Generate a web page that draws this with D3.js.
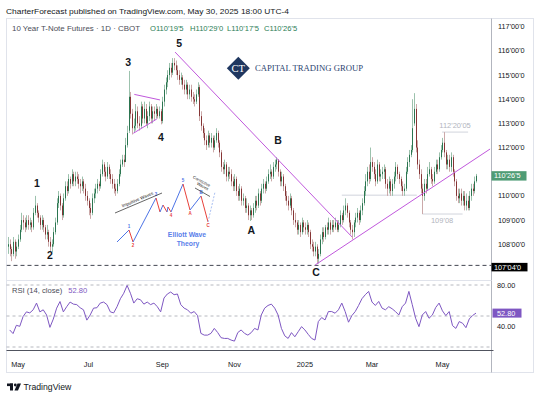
<!DOCTYPE html>
<html><head><meta charset="utf-8">
<script src="https://cdn.jsdelivr.net/npm/d3@7"></script>
<style>
body{margin:0;background:#fff;}
svg{display:block;font-family:"Liberation Sans",Arial,sans-serif;}
</style></head><body>
<svg id="c" width="540" height="395"></svg>
<script>
// ---------- DATA (daily bars, 10Y T-Note futures, Apr 2024 - May 30 2025) ----------
const opens=[
107.9,108.0,107.8,107.6,108.1,107.7,107.9,108.2,108.6,109.0,
108.9,108.7,109.0,108.8,108.9,108.7,109.3,109.6,109.3,109.1,
108.8,109.0,108.7,108.4,108.5,108.1,107.9,108.0,108.5,108.9,
109.7,110.0,109.6,109.2,109.9,110.4,110.2,110.7,110.5,110.9,
110.6,110.8,110.7,110.5,110.4,110.6,110.3,110.0,109.8,109.5,109.3,
109.9,110.1,110.3,110.5,110.4,110.9,111.3,111.0,110.8,111.2,
110.9,110.7,110.5,110.3,110.2,110.5,110.9,111.3,111.5,111.4,
112.1,112.7,114.1,113.4,112.8,112.9,113.5,113.0,112.9,113.7,
113.2,113.6,113.0,113.3,113.7,113.2,113.5,113.4,113.6,113.3,
113.5,113.1,113.9,114.4,114.7,115.0,115.3,115.1,115.5,115.4,
115.2,115.0,114.8,114.9,114.6,114.4,114.6,114.2,114.4,114.1,
114.0,113.9,114.2,114.5,113.3,112.9,112.6,112.3,112.1,112.5,
112.2,112.4,112.0,112.3,112.6,112.2,111.8,111.2,111.1,111.3,
110.8,111.0,110.9,110.6,110.4,110.7,110.2,110.0,110.3,109.8,109.9,
109.5,109.6,109.2,109.4,109.2,109.5,109.8,109.6,110.1,109.8,
110.3,110.5,110.3,110.6,110.9,111.0,110.8,111.2,111.3,111.5,
111.0,110.6,110.8,110.4,110.0,109.8,109.6,109.9,109.4,109.0,
108.9,108.6,108.8,108.5,108.9,108.7,108.6,108.8,108.5,108.0,
107.9,107.7,107.9,107.4,107.6,108.2,108.5,108.3,108.7,108.6,
108.9,108.6,108.8,108.7,108.9,108.6,108.8,109.2,109.0,109.4,
109.6,109.3,108.9,108.6,108.5,108.9,109.1,109.3,109.0,109.4,
109.7,110.2,110.6,111.0,110.7,111.4,111.2,110.9,110.6,111.3,
110.8,110.9,111.0,111.1,110.5,110.3,110.6,110.2,110.5,110.8,111.2,
110.9,110.7,110.4,110.2,110.3,111.0,111.4,111.7,111.9,113.0,
113.6,112.0,111.3,110.9,110.3,110.0,110.5,110.3,110.9,111.1,
110.7,110.6,111.0,111.3,111.1,111.6,111.9,112.2,111.8,111.3,
111.5,111.2,111.6,111.0,110.6,110.0,109.9,110.1,109.8,110.0,
109.6,109.8,109.5,110.0,110.3,110.2,110.61];
const highs=[
108.3,108.2,107.9,108.3,108.2,108.1,108.4,108.8,109.3,109.2,
109.1,109.2,109.2,109.1,109.0,109.5,110.0,109.7,109.4,109.2,
109.2,109.1,108.8,108.8,108.6,108.3,108.2,108.7,109.1,109.9,
110.2,110.1,109.7,110.1,110.6,110.6,110.9,110.8,111.1,111.0,
111.0,111.0,110.9,110.7,110.8,110.7,110.5,110.2,109.9,109.7,110.1,
110.3,110.5,110.7,110.6,111.1,111.5,111.4,111.2,111.4,111.3,
111.1,110.9,110.7,110.5,110.7,111.1,111.5,111.7,111.7,112.4,
112.9,115.17,114.3,113.6,113.2,113.8,113.7,113.3,113.9,113.8,
113.9,113.8,113.5,113.9,113.8,113.7,113.7,113.8,113.7,113.7,
113.6,114.1,114.6,114.9,115.2,115.5,115.5,115.7,115.7,115.6,
115.4,115.2,115.1,115.0,114.8,114.8,114.7,114.6,114.6,114.3,
114.2,114.4,114.7,114.6,113.5,113.0,112.8,112.5,112.7,112.6,
112.6,112.5,112.5,112.8,112.7,112.3,111.9,111.4,111.5,111.4,
111.2,111.2,111.1,110.8,110.9,110.8,110.4,110.5,110.4,110.1,110.0,
109.9,109.7,109.6,109.5,109.7,110.0,110.0,110.3,110.2,110.5,
110.7,110.6,110.8,111.1,111.3,111.1,111.4,111.5,111.6,111.5,
111.1,111.0,110.9,110.5,110.2,110.0,110.1,110.0,109.5,109.3,
109.0,109.0,108.9,109.1,109.0,108.9,109.0,108.9,108.6,108.2,
108.1,108.1,108.0,107.8,108.4,108.7,108.7,108.8,108.9,109.1,
109.0,109.0,109.0,109.1,109.0,109.0,109.4,109.3,109.6,109.9,
109.7,109.4,109.0,108.8,109.0,109.3,109.5,109.4,109.6,109.9,
110.4,110.9,111.2,111.3,112.0,111.6,111.4,111.1,111.5,111.4,
111.1,111.2,111.3,111.2,110.7,110.8,110.7,110.7,111.0,111.4,111.3,
111.0,110.8,110.6,110.5,111.2,111.6,111.9,112.1,114.0,114.25,
113.8,112.3,111.5,111.1,110.5,110.7,110.7,111.2,111.4,111.2,
110.9,111.2,111.5,111.5,111.8,112.1,112.4,112.64,111.9,111.7,
111.7,111.8,111.7,111.1,110.7,110.3,110.3,110.3,110.2,110.2,
110.1,110.0,110.2,110.5,110.5,110.8,110.91];
const lows=[
107.6,107.5,107.3,107.5,107.4,107.5,107.8,108.1,108.5,108.6,
108.5,108.6,108.6,108.6,108.5,108.6,109.2,109.1,108.9,108.6,
108.6,108.5,108.2,108.2,107.9,107.7,107.67,107.9,108.4,108.8,
109.5,109.4,109.0,109.1,109.8,110.0,110.1,110.3,110.4,110.4,
110.4,110.5,110.3,110.1,110.2,110.1,109.8,109.6,109.2,109.05,109.2,
109.7,109.9,110.1,110.2,110.3,110.8,110.8,110.6,110.7,110.7,
110.5,110.3,110.1,110.0,110.1,110.4,110.8,111.2,111.2,111.4,
112.0,112.6,113.2,112.54,112.6,112.7,112.8,112.7,112.8,113.0,
113.0,112.9,112.8,113.1,113.0,113.0,113.1,113.2,113.2,113.2,
112.96,113.0,113.7,114.2,114.5,114.8,114.9,115.0,115.2,115.0,
114.8,114.6,114.6,114.4,114.2,114.2,114.0,114.0,113.9,113.8,
113.7,113.8,114.1,113.1,112.7,112.4,112.1,111.9,112.0,112.0,
112.0,111.8,111.9,112.2,112.0,111.6,111.0,110.9,110.9,110.6,
110.6,110.7,110.4,110.2,110.2,110.0,109.8,109.8,109.6,109.6,109.3,
109.3,109.0,108.96,109.0,109.1,109.3,109.4,109.5,109.6,109.7,
110.1,110.1,110.2,110.5,110.7,110.6,110.7,111.0,111.1,110.8,
110.4,110.4,110.2,109.8,109.6,109.4,109.5,109.2,108.8,108.7,
108.4,108.4,108.3,108.4,108.5,108.4,108.4,108.3,107.8,107.7,
107.5,107.5,107.2,107.2,107.5,108.0,108.1,108.2,108.4,108.4,
108.4,108.5,108.5,108.6,108.5,108.5,108.7,108.8,108.9,109.2,
109.1,108.7,108.4,108.2,108.3,108.7,108.9,108.8,108.9,109.2,
109.6,110.0,110.4,110.5,110.6,111.0,110.7,110.4,110.5,110.6,
110.6,110.7,110.7,110.3,110.0,110.1,110.0,110.0,110.3,110.6,110.7,
110.5,110.2,110.0,110.0,110.2,110.9,111.2,111.6,111.8,112.9,
111.8,111.1,110.7,110.1,109.25,109.8,110.1,110.2,110.8,110.5,
110.4,110.5,110.9,110.9,111.0,111.5,111.8,111.6,111.1,111.1,
111.0,111.0,110.8,110.4,109.8,109.7,109.7,109.6,109.6,109.4,
109.4,109.4,109.4,109.8,110.0,110.1,110.55];
const closes=[
108.0,107.8,107.6,108.1,107.7,107.9,108.2,108.6,109.0,108.9,
108.7,109.0,108.8,108.9,108.7,109.3,109.6,109.3,109.1,108.8,
109.0,108.7,108.4,108.5,108.1,107.9,108.0,108.5,108.9,109.7,
110.0,109.6,109.2,109.9,110.4,110.2,110.7,110.5,110.9,110.6,
110.8,110.7,110.5,110.4,110.6,110.3,110.0,109.8,109.5,109.3,109.9,
110.1,110.3,110.5,110.4,110.9,111.3,111.0,110.8,111.2,110.9,
110.7,110.5,110.3,110.2,110.5,110.9,111.3,111.5,111.4,112.1,
112.6,114.1,113.4,112.8,112.9,113.5,113.0,112.9,113.7,113.2,
113.6,113.0,113.3,113.7,113.2,113.5,113.4,113.6,113.3,113.5,
113.1,113.9,114.4,114.7,115.0,115.3,115.1,115.5,115.4,115.2,
115.0,114.8,114.9,114.6,114.4,114.6,114.2,114.4,114.1,114.0,
113.9,114.2,114.5,113.3,112.9,112.6,112.3,112.1,112.5,112.2,
112.4,112.0,112.3,112.6,112.2,111.8,111.2,111.1,111.3,110.8,
111.0,110.9,110.6,110.4,110.7,110.2,110.0,110.3,109.8,109.9,109.5,
109.6,109.2,109.4,109.2,109.5,109.8,109.6,110.1,109.8,110.3,
110.5,110.3,110.6,110.9,111.0,110.8,111.2,111.3,111.5,111.0,
110.6,110.8,110.4,110.0,109.8,109.6,109.9,109.4,109.0,108.9,
108.6,108.8,108.5,108.9,108.7,108.6,108.8,108.5,108.0,107.9,
107.7,107.9,107.4,107.6,108.2,108.5,108.3,108.7,108.6,108.9,
108.6,108.8,108.7,108.9,108.6,108.8,109.2,109.0,109.4,109.6,
109.3,108.9,108.6,108.5,108.9,109.1,109.3,109.0,109.4,109.7,
110.2,110.6,111.0,110.7,111.4,111.2,110.9,110.6,111.3,110.8,
110.9,111.0,111.1,110.5,110.3,110.6,110.2,110.5,110.8,111.2,110.9,
110.7,110.4,110.2,110.3,111.0,111.4,111.7,111.9,112.8,113.6,
112.0,111.3,110.9,110.3,110.0,110.5,110.3,110.9,111.1,110.7,
110.6,111.0,111.3,111.1,111.6,111.9,112.2,111.8,111.3,111.5,
111.2,111.6,111.0,110.6,110.0,109.9,110.1,109.8,110.0,109.6,
109.8,109.5,110.0,110.3,110.2,110.6,110.83];
const rsiValues=[
36.5,33,41,40,49.5,54,53,56,62.5,54,
56,51,39,47,57.6,64,54,59,63.5,61.5,
61,58,56,46,51,57.6,58,62.5,63.5,61,
54,53,59,66.7,72,79.6,72,62.5,66.7,65.7,
61.5,63.5,61,62.5,59,54,67.4,71.3,73.2,70.6,
71.3,61,57.6,56,52.7,54.3,50.4,33.2,31.5,31.5,
33.2,38,34,29,28.3,28.3,26.7,25.7,34,36.5,
33.2,31.5,33.9,38,36.5,51,57.6,60.2,61.5,57.6,
51,38,30.8,28.3,33.9,29.9,34.8,39.7,36.5,32.2,
28.3,26.7,44.6,48.5,46.2,54.3,54.3,52.7,56,62.5,
54.3,44,50.4,54.3,60.2,66.7,70.6,73.8,63.5,60.2,
64.1,57.6,56,59,57,54.3,51,59,62.5,73.8,
61,47.8,39.7,51,54.3,47.8,51,58.3,62.5,55,
50.4,54.3,40.7,38,44.6,43,38.7,47.2,50.5,52.8];
const rsiFirstBar=1, rsiStep=2;

const priceTicks=[117,116,115,114,113,112,110,109,108];
const priceTickLabels=["117'00'0","116'00'0","115'00'0","114'00'0","113'00'0","112'00'0","110'00'0","109'00'0","108'00'0"];
const monthLabels=["May","Jul","Sep","Nov","2025","Mar","May"];
const monthBars=[6,48,92,135,177,217,259];
const rsiTicks=[80,40];
const rsiTickLabels=["80.00","40.00"];
const lastPrice=110.828, lastPriceLabel="110'26'5";
const keyLevel=107.125, keyLevelLabel="107'04'0";
const lastRsi=52.80;

// Elliott wave count annotations (bar index, price)
const waveLabels=["1","2","3","4","5","A","B","C"];
const waveBars=[17.3,25,71.6,91.2,102,145,161,183.7];
const wavePrices=[110.54,107.56,115.54,112.44,116.33,108.6,112.31,106.86];
// trend lines: [bar0, price0, bar1, price1]
const trendLines=[[99.6,115.95,205.1,108.3],[183.1,107.14,287.4,111.94],[75.3,114.2,90.6,113.97],[74.7,112.59,88.7,113.18]];
// grey horizontal markers
const greyLevels=[[199,243.7,110.03],[247,271,109.25],[258.8,274.3,112.64]];
const greyTexts=[["109'08",258.8,108.98],["112'20'05",266.5,112.93]];
// inset "Elliott Wave Theory" schematic (local units)
const insetPts=[[1,0],[13,12],[17,0],[40,44],[44,30],[47,37],[51,30],[52,35],[55,30],[67,58],[74,32],[85,46],[92,20]];
const insetTail=[[92,20],[99,50]];
const insetLabels=[["1",13,12,1],["2",17,0,-1],["3",40,44,1],["4",55,30,-1],["5",67,58,1],["A",74,32,-1],["B",85,46,1],["C",92,20,-1]];

// ---------- DRAW ----------
const svg=d3.select("#c");
const PL=6.5, PR=491.5, MT=18.5, MB=280.5, RB=350.5, AB=372.5, FR=533.5;
const x=d3.scaleLinear().domain([0,279]).range([8,476]);
const y=d3.scaleLinear().domain([106.52,117.36]).range([280,18]);
const yr=d3.scaleLinear().domain([20,80]).range([347,285]);

svg.append("rect").attr("width",540).attr("height",395).attr("fill","#fff");
// header
svg.append("text").attr("x",6).attr("y",14).attr("font-size",8).attr("fill","#131722")
  .attr("textLength",283).attr("lengthAdjust","spacingAndGlyphs")
  .text("CharterForecast published on TradingView.com, May 30, 2025 18:00 UTC-4");

// frame
svg.append("rect").attr("x",PL).attr("y",MT).attr("width",FR-PL).attr("height",AB-MT)
  .attr("fill","none").attr("stroke","#e0e3eb");
svg.append("line").attr("x1",PR).attr("x2",PR).attr("y1",MT).attr("y2",AB).attr("stroke","#b2b5be");
svg.append("line").attr("x1",PL).attr("x2",PR).attr("y1",MB).attr("y2",MB).attr("stroke","#e0e3eb");
svg.append("line").attr("x1",PL).attr("x2",PR+2).attr("y1",RB).attr("y2",RB).attr("stroke","#50535e");

svg.append("defs").append("clipPath").attr("id","mainClip").append("rect")
  .attr("x",PL).attr("y",MT).attr("width",PR-PL).attr("height",MB-MT);
const main=svg.append("g").attr("clip-path","url(#mainClip)");

// logo watermark
const logo=svg.append("g");
logo.append("path").attr("d","M238.3,56.8 L249.8,68.3 L238.3,79.8 L226.8,68.3 Z").attr("fill","#1f3760");
logo.append("text").attr("x",238.3).attr("y",72).attr("text-anchor","middle").attr("font-family","Liberation Serif,serif")
  .attr("font-size",10.5).attr("fill","#fff").text("CT");
logo.append("text").attr("x",255).attr("y",71).attr("font-family","Liberation Serif,serif").attr("font-size",8.3)
  .attr("fill","#2c4470").attr("textLength",108).attr("lengthAdjust","spacingAndGlyphs").text("CAPITAL TRADING GROUP");

// key level dashed line
main.append("line").attr("x1",PL).attr("x2",PR).attr("y1",y(keyLevel)).attr("y2",y(keyLevel))
  .attr("stroke","#434651").attr("stroke-dasharray","4,3");

// grey markers
main.selectAll(".gl").data(greyLevels).join("line")
  .attr("x1",d=>x(d[0])).attr("x2",d=>x(d[1])).attr("y1",d=>y(d[2])).attr("y2",d=>y(d[2]))
  .attr("stroke","#d1d4dc").attr("stroke-width",1);
main.selectAll(".gt").data(greyTexts).join("text")
  .attr("x",d=>x(d[1])).attr("y",d=>y(d[2])).attr("dy","0.35em").attr("text-anchor","middle")
  .attr("font-size",7.5).attr("fill","#b2b5be").text(d=>d[0]);

// candles
const bars=closes.map((c,i)=>({i,o:opens[i],h:highs[i],l:lows[i],c}));
main.selectAll(".wick").data(bars).join("line")
  .attr("x1",d=>Math.round(x(d.i))+0.5).attr("x2",d=>Math.round(x(d.i))+0.5)
  .attr("y1",d=>y(d.h)).attr("y2",d=>y(d.l))
  .attr("stroke",d=>d.c>=d.o?"#9cc2ad":"#cba9a9").attr("stroke-width",1);
main.selectAll(".body").data(bars).join("rect")
  .attr("x",d=>Math.round(x(d.i))).attr("width",1)
  .attr("y",d=>y(Math.max(d.o,d.c))).attr("height",d=>Math.max(1,Math.abs(y(d.o)-y(d.c))))
  .attr("fill",d=>d.c>=d.o?"#2b7550":"#863535");

// trend lines
main.selectAll(".tl").data(trendLines).join("line")
  .attr("x1",d=>x(d[0])).attr("y1",d=>y(d[1])).attr("x2",d=>x(d[2])).attr("y2",d=>y(d[3]))
  .attr("stroke","#c058dc").attr("stroke-width",1);

// wave labels
main.selectAll(".wl").data(waveLabels).join("text")
  .attr("x",(d,i)=>x(waveBars[i])).attr("y",(d,i)=>y(wavePrices[i])).attr("dy","0.36em")
  .attr("text-anchor","middle").attr("font-size",10.5).attr("font-weight","bold").attr("fill","#131722").text(d=>d);

// inset schematic
const ix=d3.scaleLinear().domain([0,100]).range([116,216]);
const iy=d3.scaleLinear().domain([0,60]).range([242,182]);
const ins=main.append("g");
const segs=d3.pairs(insetPts);
ins.selectAll(".seg").data(segs).join("line")
  .attr("x1",d=>ix(d[0][0])).attr("y1",d=>iy(d[0][1])).attr("x2",d=>ix(d[1][0])).attr("y2",d=>iy(d[1][1]))
  .attr("stroke",d=>d[1][1]>d[0][1]?"#4d74e6":"#e8413a").attr("stroke-width",1);
ins.append("line").attr("x1",ix(insetTail[0][0])).attr("y1",iy(insetTail[0][1]))
  .attr("x2",ix(insetTail[1][0])).attr("y2",iy(insetTail[1][1]))
  .attr("stroke","#a9bff2").attr("stroke-width",1).attr("stroke-dasharray","2,1.5");
ins.selectAll(".il").data(insetLabels).join("text")
  .attr("x",d=>ix(d[1])).attr("y",d=>iy(d[2])-d[3]*3.5).attr("dy","0.35em").attr("text-anchor","middle")
  .attr("font-size",4.5).attr("font-weight","bold").attr("fill",d=>d[3]>0?"#4d74e6":"#e8413a").text(d=>d[0]);
ins.append("line").attr("x1",ix(-1)).attr("y1",iy(29)).attr("x2",ix(46)).attr("y2",iy(49)).attr("stroke","#222").attr("stroke-width",0.7);
ins.append("text").attr("transform",`translate(${ix(22)},${iy(41)}) rotate(-23)`).attr("text-anchor","middle")
  .attr("font-size",4.5).attr("fill","#222").text("Impulsive Waves");
ins.append("line").attr("x1",ix(79)).attr("y1",iy(54)).attr("x2",ix(94)).attr("y2",iy(45.5)).attr("stroke","#222").attr("stroke-width",0.7);
ins.append("text").attr("transform",`translate(${ix(85)},${iy(59.5)}) rotate(28)`).attr("text-anchor","middle")
  .attr("font-size",4.2).attr("fill","#222").text("Corrective");
ins.append("text").attr("transform",`translate(${ix(86)},${iy(54.5)}) rotate(28)`).attr("text-anchor","middle")
  .attr("font-size",4.2).attr("fill","#222").text("Waves");
ins.append("text").attr("x",ix(71)).attr("y",iy(7)).attr("dy","0.35em").attr("text-anchor","middle")
  .attr("font-size",6.8).attr("font-weight","bold").attr("fill","#5a80ea").text("Elliott Wave");
ins.append("text").attr("x",ix(72)).attr("y",iy(-2)).attr("dy","0.35em").attr("text-anchor","middle")
  .attr("font-size",6.8).attr("font-weight","bold").attr("fill","#5a80ea").text("Theory");

// title line
const t=svg.append("text").attr("x",12).attr("y",30.5).attr("font-size",7.6);
t.append("tspan").attr("fill","#4a4d57").attr("textLength",128).attr("lengthAdjust","spacingAndGlyphs").text("10 Year T-Note Futures · 1D · CBOT");
const ohlc=[["O","110'19'5",150],["H","110'29'0",190],["L","110'17'5",227],["C","110'26'5",264]];
svg.selectAll(".ohlc").data(ohlc).join("text").attr("x",d=>d[2]).attr("y",30.5).attr("font-size",7.6)
  .attr("fill","#2a7d55").text(d=>d[0]+d[1]);

// right price axis
svg.selectAll(".pt").data(priceTicks).join("text")
  .attr("x",498).attr("y",d=>y(d)).attr("dy","0.35em").attr("font-size",7.3).attr("fill","#131722")
  .text((d,i)=>priceTickLabels[i]);
svg.append("rect").attr("x",491.5).attr("y",y(lastPrice)-4.7).attr("width",35).attr("height",9.4).attr("fill","#4f9c75");
svg.append("text").attr("x",494).attr("y",y(lastPrice)).attr("dy","0.35em").attr("font-size",7.3).attr("fill","#fff").text(lastPriceLabel);
svg.append("rect").attr("x",491.5).attr("y",y(keyLevel)-2.5).attr("width",36).attr("height",8.5).attr("fill","#000");
svg.append("text").attr("x",494).attr("y",y(keyLevel)+1.8).attr("dy","0.35em").attr("font-size",7.3).attr("fill","#fff").text(keyLevelLabel);

// RSI pane
svg.selectAll(".rg").data([80,50,20]).join("line")
  .attr("x1",PL).attr("x2",PR).attr("y1",d=>yr(d)).attr("y2",d=>yr(d))
  .attr("stroke","#a3a6af").attr("stroke-dasharray","3,3").attr("stroke-width",0.8);
const rsiLine=d3.line().x((d,k)=>x(rsiFirstBar+k*rsiStep)).y(d=>yr(d));
svg.append("path").attr("d",rsiLine(rsiValues)).attr("fill","none").attr("stroke","#7e57c2").attr("stroke-width",1);
const rl=svg.append("text").attr("x",12).attr("y",293).attr("font-size",7.6);
rl.append("tspan").attr("fill","#4a4d57").text("RSI (14, close)");
rl.append("tspan").attr("fill","#7e57c2").attr("dx",6).text(lastRsi.toFixed(2));
svg.selectAll(".rt").data(rsiTicks).join("text")
  .attr("x",497).attr("y",d=>yr(d)).attr("dy","0.35em").attr("font-size",7.3).attr("fill","#131722")
  .text((d,i)=>rsiTickLabels[i]);
svg.append("rect").attr("x",492.5).attr("y",yr(lastRsi)-4.5).attr("width",29).attr("height",9).attr("fill","#7e57c2");
svg.append("text").attr("x",497).attr("y",yr(lastRsi)).attr("dy","0.35em").attr("font-size",7.3).attr("fill","#fff").text(lastRsi.toFixed(2));

// time axis
svg.selectAll(".mt").data(monthLabels).join("text")
  .attr("x",(d,i)=>x(monthBars[i])).attr("y",364).attr("dy","0.35em").attr("text-anchor","middle")
  .attr("font-size",7.3).attr("fill","#131722").text(d=>d);

// footer logo
const f=svg.append("g").attr("fill","#131722");
f.append("rect").attr("x",7).attr("y",383.5).attr("width",6).attr("height",2.6);
f.append("rect").attr("x",10).attr("y",383.5).attr("width",3).attr("height",7);
f.append("circle").attr("cx",15.3).attr("cy",385).attr("r",1.4);
f.append("path").attr("d","M17.5,383.5 L21,383.5 L18,390.5 L14.5,390.5 Z");
svg.append("text").attr("x",23.5).attr("y",390.3).attr("font-size",8.7).attr("fill","#131722").text("TradingView");
</script>
</body></html>
